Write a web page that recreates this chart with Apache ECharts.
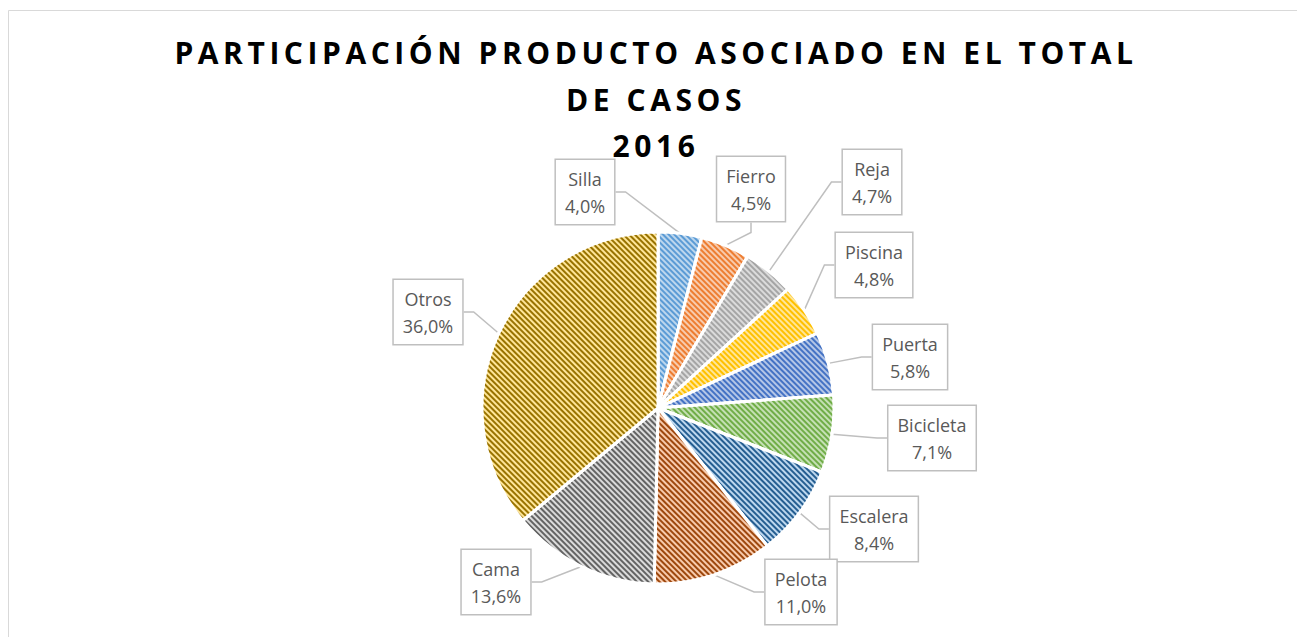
<!DOCTYPE html>
<html lang="es">
<head>
    <meta charset="UTF-8">
    <title>Participación producto asociado</title>
    <script src="https://cdn.jsdelivr.net/npm/echarts@6/dist/echarts.min.js"></script>
</head>
<style>
    html, body { margin: 0; padding: 0; background-color: #FFFFFF; }
    /* espaciado de letras del titulo (solo texto de 30px) */
    #main svg text[style*="30px"] { letter-spacing: 4.55px; }
</style>
<body>
<div id="main" style="width: 1297px;height:637px;"></div>
<script>
    // datos del grafico
    var productos = ['Silla', 'Fierro', 'Reja', 'Piscina', 'Puerta', 'Bicicleta', 'Escalera', 'Pelota', 'Cama', 'Otros'];
    var porcentajes = [4.0, 4.5, 4.7, 4.8, 5.8, 7.1, 8.4, 11.0, 13.6, 36.0];
    var titulos = ['PARTICIPACIÓN PRODUCTO ASOCIADO EN EL TOTAL', 'DE CASOS', '2016'];

    // colores: fondo claro + trama oscura
    var fondos = ['#BDD7EE', '#F8CBAD', '#DBDBDB', '#FFE699', '#B4C6E7', '#C5E0B4', '#BDD7EE', '#F8CBAD', '#DBDBDB', '#FFE699'];
    var tramas = ['#5B9BD5', '#ED7D31', '#A5A5A5', '#FFC000', '#4472C4', '#70AD47', '#255E91', '#9E480E', '#636363', '#997300'];
    // centro de cada etiqueta (callout)
    var posEtiquetas = [[585, 192], [751, 189], [872, 182], [874, 265], [910, 357], [932, 438], [874, 529], [801, 592], [496, 582], [428, 312]];

    var myChart = echarts.init(document.getElementById('main'), null, {renderer: 'svg'});

    var datos = productos.map(function (p, i) {
        return {
            name: p,
            value: porcentajes[i],
            itemStyle: {
                color: fondos[i],
                decal: {
                    symbol: 'rect',
                    color: tramas[i],
                    dashArrayX: [1, 0],
                    dashArrayY: [1.2, 1.8],
                    rotation: Math.PI / 4
                }
            }
        };
    });

    var tituloY = [32, 79, 125];

    var option = {
        backgroundColor: '#FFFFFF',
        title: titulos.map(function (t, i) {
            return {
                text: t,
                left: 651,
                top: tituloY[i],
                textAlign: 'center',
                textStyle: {
                    color: '#000000',
                    fontFamily: 'Open Sans',
                    fontWeight: 'bold',
                    fontSize: 30
                }
            };
        }),
        graphic: [{
            type: 'rect',
            shape: { x: 8.5, y: 10.5, width: 1400, height: 700 },
            style: { fill: 'none', stroke: '#D9D9D9', lineWidth: 1 },
            silent: true
        }],
        series: [
            {
                name: 'Productos',
                type: 'pie',
                radius: 176,
                center: [658, 408],
                startAngle: 90,
                clockwise: true,
                itemStyle: {
                    borderColor: '#FFFFFF',
                    borderWidth: 3
                },
                label: {
                    show: true,
                    position: 'outside',
                    formatter: function (p) {
                        return p.name + '\n' + p.value.toFixed(1).replace('.', ',') + '%';
                    },
                    color: '#595959',
                    fontFamily: 'Open Sans',
                    fontSize: 18,
                    lineHeight: 27,
                    align: 'center',
                    backgroundColor: '#FFFFFF',
                    borderColor: '#BFBFBF',
                    borderWidth: 1.5,
                    padding: [5, 9, 5, 9]
                },
                labelLine: {
                    show: true,
                    length: 15,
                    length2: 10,
                    lineStyle: { color: '#BFBFBF', width: 1.5 }
                },
                labelLayout: function (params) {
                    var c = posEtiquetas[params.dataIndex];
                    return {
                        x: c[0],
                        y: c[1],
                        align: 'center',
                        verticalAlign: 'middle'
                    };
                },
                data: datos
            }
        ]
    };

    myChart.setOption(option);
</script>
</body>
</html>
